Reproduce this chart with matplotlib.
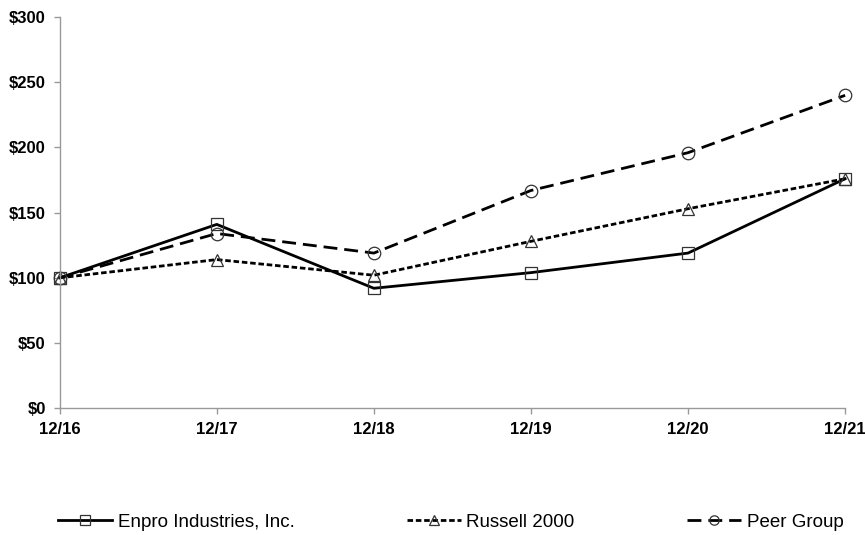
import matplotlib.pyplot as plt

plt.rcParams['font.family'] = ['Liberation Sans', 'DejaVu Sans']

years = ['12/16', '12/17', '12/18', '12/19', '12/20', '12/21']
enpro = [100, 141, 92, 104, 119, 176]
russell = [100, 114, 102, 128, 153, 176]
peer = [100, 134, 119, 167, 196, 240]

fig = plt.figure(figsize=(8.65, 5.35), dpi=100)
ax = fig.add_axes([0.069, 0.237, 0.908, 0.731])

x = range(len(years))
mk = dict(markersize=9, markerfacecolor='none', markeredgecolor='#333333',
          markeredgewidth=0.9, clip_on=False)

ax.plot(x, enpro, color='black', lw=2, marker='s', label='Enpro Industries, Inc.', **mk)
ax.plot(x, russell, color='black', lw=2, ls=(0, (2, 1)), marker='^', label='Russell 2000', **mk)
ax.plot(x, peer, color='black', lw=2, ls=(0, (5, 2.5)), marker='o', label='Peer Group', **mk)

ax.set_xlim(0, len(years) - 1)
ax.set_ylim(0, 300)
ax.set_xticks(list(x))
ax.set_xticklabels(years, fontweight='bold', fontsize=12)
ax.set_yticks(range(0, 301, 50))
ax.set_yticklabels([f'${v}' for v in range(0, 301, 50)], fontweight='bold', fontsize=12)

for s in ['top', 'right']:
    ax.spines[s].set_visible(False)
for s in ['left', 'bottom']:
    ax.spines[s].set_color('#999999')
    ax.spines[s].set_linewidth(1)
ax.tick_params(axis='both', colors='#999999', length=4, width=1, labelcolor='black')
ax.tick_params(axis='x', pad=6)
ax.tick_params(axis='y', pad=6)

fig.legend(loc='center', bbox_to_anchor=(0.521, 0.024), ncol=3, frameon=False,
           fontsize=13.5, handlelength=2.9, columnspacing=6.0, handletextpad=0.27,
           markerscale=0.75)

fig.savefig('out.png', dpi=100)
